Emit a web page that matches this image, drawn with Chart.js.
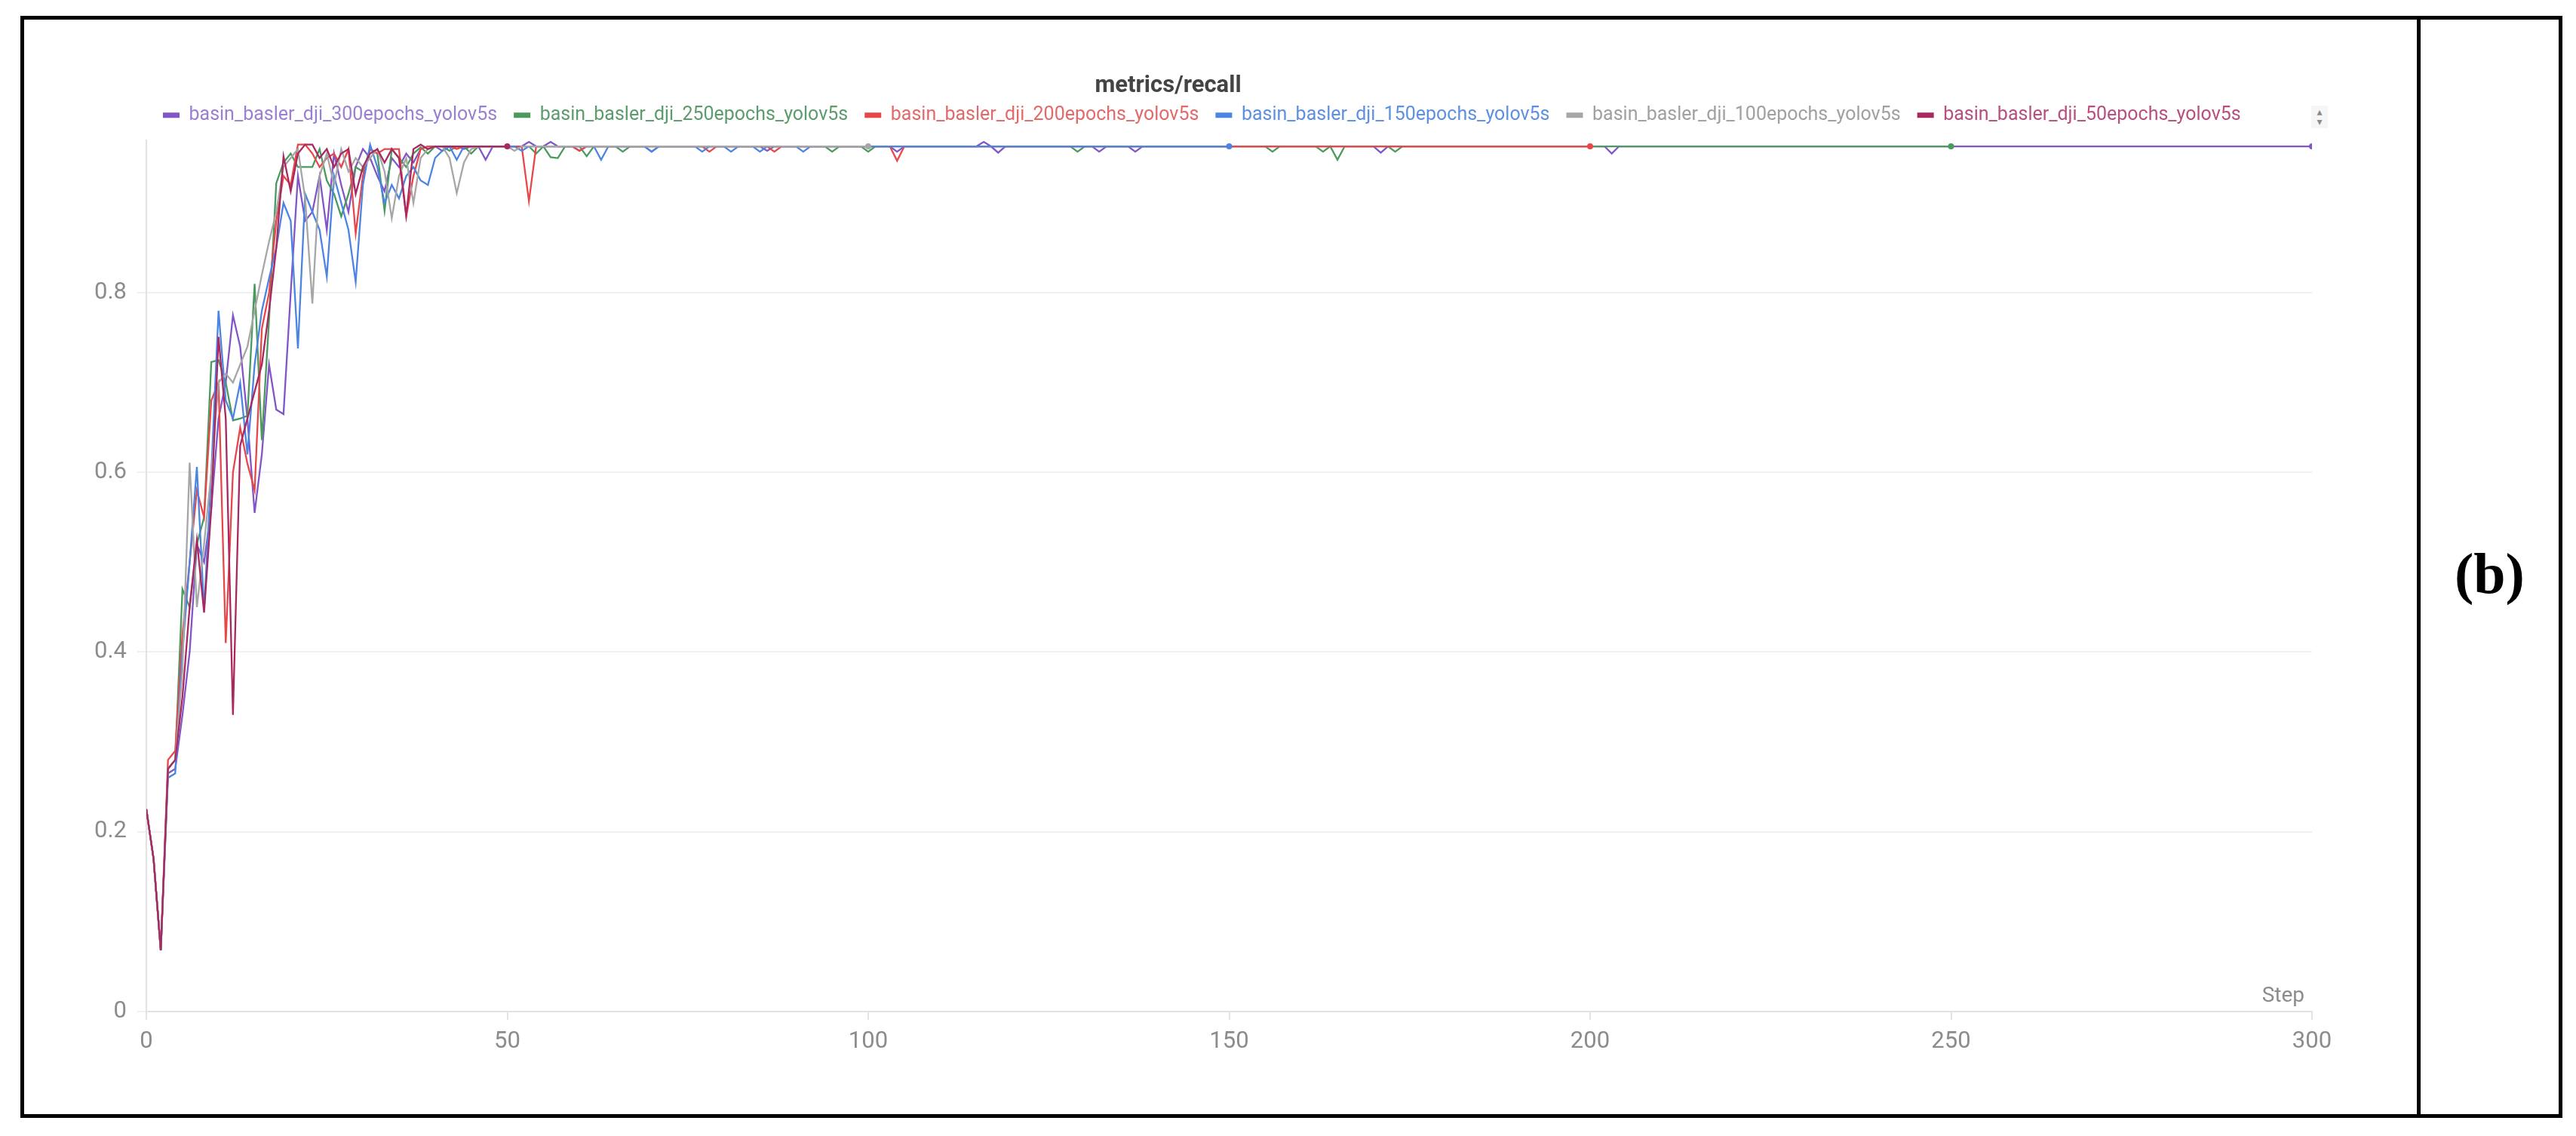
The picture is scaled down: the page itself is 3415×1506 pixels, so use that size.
<!DOCTYPE html>
<html>
<head>
<meta charset="utf-8">
<script src="https://cdn.jsdelivr.net/npm/chart.js@4.4.1/dist/chart.umd.min.js"></script>
<style>
  html, body { margin: 0; padding: 0; background: #fff; }
  body { width: 3415px; height: 1506px; position: relative; overflow: hidden; }
  #frame { position: absolute; left: 27px; top: 21px; width: 3370px; height: 1461px; border: 5px solid #000; box-sizing: border-box; }
  #divider { position: absolute; left: 3204px; top: 21px; width: 5px; height: 1461px; background: #000; }
  #wrap { position: absolute; left: 32px; top: 26px; width: 3172px; height: 1450px; }
  #label { position: absolute; left: 3209px; top: 44px; width: 183px; height: 1432px; display: flex; align-items: center; justify-content: center; font: bold 76px "Liberation Serif", "Times New Roman", serif; color: #000; }
  #scroll { position: absolute; left: 3064px; top: 140px; width: 22px; padding: 2px 0; background: #f6f6f6; font: 14px "DejaVu Sans", sans-serif; line-height: 13px; color: #8a8a8a; text-align: center; }
</style>
</head>
<body>
<div id="frame"></div>
<div id="divider"></div>
<div id="wrap"><canvas id="recallChart" width="3172" height="1450"></canvas></div>
<div id="scroll">▴<br>▾</div>
<div id="label">(b)</div>
<script>
// ---------------- DATA ----------------
const chartTitle = "metrics/recall";
const xTitle = "Step";
const xTickValues = [0, 50, 100, 150, 200, 250, 300];
const yTickValues = [0, 0.2, 0.4, 0.6, 0.8];

const runNames = [
    "basin_basler_dji_300epochs_yolov5s",
    "basin_basler_dji_250epochs_yolov5s",
    "basin_basler_dji_200epochs_yolov5s",
    "basin_basler_dji_150epochs_yolov5s",
    "basin_basler_dji_100epochs_yolov5s",
    "basin_basler_dji_50epochs_yolov5s"
];

// recall per step (step 0 .. N)
const recall300 = [
    .225,.17,.068,.265,.27,.33,.40,.52,.50,.56,
    .66,.70,.775,.74,.66,.555,.62,.72,.67,.665,
    .80,.93,.88,.89,.93,.87,.955,.92,.89,.94,
    .96,.95,.93,.913,.95,.94,.955,.945,.96,.963,
    .963,.958,.963,.963,.96,.963,.963,.948,.963,.963,
    .963,.963,.963,.968,.963,.963,.968,.963,.963,.963,
    .958,.963,.963,.963,.963,.963,.963,.963,.963,.963,
    .957,.963,.963,.963,.963,.963,.963,.963,.963,.963,
    .963,.963,.963,.963,.963,.963,.958,.963,.963,.963,
    .963,.963,.963,.963,.963,.963,.963,.963,.963,.963,
    .963,.963,.963,.963,.957,.963,.963,.963,.963,.963,
    .963,.963,.963,.963,.963,.963,.968,.963,.956,.963,
    .963,.963,.963,.963,.963,.963,.963,.963,.963,.963,
    .963,.963,.957,.963,.963,.963,.963,.957,.963,.963,
    .963,.963,.963,.963,.963,.963,.963,.963,.963,.963,
    .963,.963,.963,.963,.963,.963,.963,.963,.963,.963,
    .963,.963,.963,.963,.963,.963,.963,.963,.963,.963,
    .963,.956,.963,.963,.963,.963,.963,.963,.963,.963,
    .963,.963,.963,.963,.963,.963,.963,.963,.963,.963,
    .963,.963,.963,.963,.963,.963,.963,.963,.963,.963,
    .963,.963,.963,.955,.963,.963,.963,.963,.963,.963,
    .963,.963,.963,.963,.963,.963,.963,.963,.963,.963,
    .963,.963,.963,.963,.963,.963,.963,.963,.963,.963,
    .963,.963,.963,.963,.963,.963,.963,.963,.963,.963,
    .963,.963,.963,.963,.963,.963,.963,.963,.963,.963,
    .963,.963,.963,.963,.963,.963,.963,.963,.963,.963,
    .963,.963,.963,.963,.963,.963,.963,.963,.963,.963,
    .963,.963,.963,.963,.963,.963,.963,.963,.963,.963,
    .963,.963,.963,.963,.963,.963,.963,.963,.963,.963,
    .963,.963,.963,.963,.963,.963,.963,.963,.963,.963,
    .963
];

const recall250 = [
    .225,.17,.068,.27,.28,.47,.45,.52,.55,.723,
    .725,.70,.658,.66,.663,.81,.636,.77,.922,.945,
    .955,.94,.94,.94,.96,.925,.91,.885,.91,.94,
    .935,.96,.955,.891,.96,.95,.94,.955,.962,.955,
    .963,.963,.958,.963,.963,.955,.963,.963,.963,.963,
    .963,.963,.963,.963,.955,.963,.951,.95,.963,.963,
    .963,.952,.963,.963,.963,.963,.957,.963,.963,.963,
    .963,.963,.963,.963,.963,.963,.963,.963,.963,.963,
    .963,.963,.963,.963,.963,.963,.963,.963,.963,.963,
    .963,.963,.963,.963,.963,.957,.963,.963,.963,.963,
    .957,.963,.963,.963,.963,.963,.963,.963,.963,.963,
    .963,.963,.963,.963,.963,.963,.963,.963,.963,.963,
    .963,.963,.963,.963,.963,.963,.963,.963,.963,.957,
    .963,.963,.963,.963,.963,.963,.963,.963,.963,.963,
    .963,.963,.963,.963,.963,.963,.963,.963,.963,.963,
    .963,.963,.963,.963,.963,.963,.957,.963,.963,.963,
    .963,.963,.963,.957,.963,.948,.963,.963,.963,.963,
    .963,.963,.963,.957,.963,.963,.963,.963,.963,.963,
    .963,.963,.963,.963,.963,.963,.963,.963,.963,.963,
    .963,.963,.963,.963,.963,.963,.963,.963,.963,.963,
    .963,.963,.963,.963,.963,.963,.963,.963,.963,.963,
    .963,.963,.963,.963,.963,.963,.963,.963,.963,.963,
    .963,.963,.963,.963,.963,.963,.963,.963,.963,.963,
    .963,.963,.963,.963,.963,.963,.963,.963,.963,.963,
    .963,.963,.963,.963,.963,.963,.963,.963,.963,.963,
    .963
];

const recall200 = [
    .225,.17,.068,.28,.29,.42,.50,.58,.55,.68,
    .70,.41,.60,.65,.61,.58,.76,.80,.88,.93,
    .92,.965,.965,.955,.94,.95,.955,.94,.96,.866,
    .93,.96,.955,.96,.96,.96,.885,.93,.96,.963,
    .963,.963,.963,.96,.963,.963,.963,.963,.963,.963,
    .963,.963,.963,.902,.963,.963,.963,.963,.963,.963,
    .958,.963,.963,.963,.963,.963,.963,.963,.963,.963,
    .963,.963,.963,.963,.963,.963,.963,.963,.957,.963,
    .963,.963,.963,.963,.963,.963,.963,.957,.963,.963,
    .963,.963,.963,.963,.963,.963,.963,.963,.963,.963,
    .963,.963,.963,.963,.947,.963,.963,.963,.963,.963,
    .963,.963,.963,.963,.963,.963,.963,.963,.963,.963,
    .963,.963,.963,.963,.963,.963,.963,.963,.963,.963,
    .963,.963,.963,.963,.963,.963,.963,.963,.963,.963,
    .963,.963,.963,.963,.963,.963,.963,.963,.963,.963,
    .963,.963,.963,.963,.963,.963,.963,.963,.963,.963,
    .963,.963,.963,.963,.963,.963,.963,.963,.963,.963,
    .963,.963,.963,.963,.963,.963,.963,.963,.963,.963,
    .963,.963,.963,.963,.963,.963,.963,.963,.963,.963,
    .963,.963,.963,.963,.963,.963,.963,.963,.963,.963,
    .963
];

const recall150 = [
    .225,.17,.068,.26,.265,.40,.50,.606,.447,.60,
    .78,.68,.66,.70,.62,.72,.78,.816,.85,.90,
    .88,.738,.91,.89,.87,.818,.93,.90,.87,.812,
    .92,.965,.94,.90,.92,.905,.93,.94,.925,.92,
    .95,.958,.963,.948,.963,.963,.963,.963,.963,.963,
    .963,.963,.958,.963,.963,.963,.963,.963,.963,.963,
    .963,.963,.963,.948,.963,.963,.963,.963,.963,.963,
    .957,.963,.963,.963,.963,.963,.963,.957,.963,.963,
    .963,.957,.963,.963,.963,.957,.963,.963,.963,.963,
    .963,.957,.963,.963,.963,.963,.963,.963,.963,.963,
    .963,.963,.963,.963,.963,.963,.963,.963,.963,.963,
    .963,.963,.963,.963,.963,.963,.963,.963,.963,.963,
    .963,.963,.963,.963,.963,.963,.963,.963,.963,.963,
    .963,.963,.963,.963,.963,.963,.963,.963,.963,.963,
    .963,.963,.963,.963,.963,.963,.963,.963,.963,.963,
    .963
];

const recall100 = [
    .225,.17,.068,.27,.28,.38,.611,.45,.52,.60,
    .70,.71,.70,.72,.74,.78,.82,.857,.89,.94,
    .95,.96,.905,.788,.93,.955,.92,.96,.935,.95,
    .94,.95,.96,.935,.883,.93,.95,.90,.95,.96,
    .963,.963,.95,.911,.945,.96,.963,.963,.963,.963,
    .963,.958,.963,.963,.963,.963,.963,.963,.963,.963,
    .963,.963,.963,.963,.963,.963,.963,.963,.963,.963,
    .963,.963,.963,.963,.963,.963,.963,.963,.963,.963,
    .963,.963,.963,.963,.963,.963,.963,.963,.963,.963,
    .963,.963,.963,.963,.963,.963,.963,.963,.963,.963,
    .963
];

const recall50 = [
    .225,.17,.068,.27,.28,.35,.45,.525,.444,.56,
    .751,.66,.33,.63,.66,.69,.72,.78,.85,.952,
    .913,.955,.965,.965,.95,.96,.94,.955,.96,.91,
    .94,.955,.96,.945,.96,.95,.886,.96,.965,.96,
    .963,.963,.963,.963,.963,.963,.963,.963,.963,.963,
    .963
];

// ---------------- STYLE ----------------
const lineColors = ["#8056c8", "#4a9a5e", "#e8474a", "#4c84e3", "#a6a6a6", "#a82860"];
const textColors = ["#9a80d2", "#5c9c6c", "#e26a6a", "#5e90e2", "#a0a0a0", "#b8507f"];
const runData = [recall300, recall250, recall200, recall150, recall100, recall50];

const tickColor = "#8c8c8c";
const gridColor = "#f0f0f0";
const axisColor = "#e2e2e2";

// ---------------- CHART ----------------
const stepLabel = {
    id: "stepLabel",
    afterDraw(chart) {
        const { ctx, chartArea } = chart;
        ctx.save();
        ctx.font = "28px Roboto";
        ctx.fillStyle = tickColor;
        ctx.textAlign = "right";
        ctx.textBaseline = "middle";
        ctx.fillText(xTitle, chartArea.right - 10, chartArea.bottom - 20);
        ctx.restore();
    }
};

new Chart(document.getElementById("recallChart"), {
    type: "line",
    data: {
        datasets: runData.map((values, i) => ({
            label: runNames[i],
            data: values.map((v, step) => ({ x: step, y: v })),
            borderColor: lineColors[i],
            backgroundColor: lineColors[i],
            borderWidth: 2.3,
            tension: 0,
            fill: false,
            order: 5 - i,
            pointRadius: ctx => ctx.dataIndex === values.length - 1 ? 4 : 0,
            pointBorderWidth: 0,
            pointBackgroundColor: lineColors[i]
        }))
    },
    options: {
        responsive: false,
        animation: false,
        devicePixelRatio: 1,
        layout: { padding: { left: 0, right: 139, top: 0, bottom: 65 } },
        plugins: {
            title: {
                display: true,
                text: chartTitle,
                color: "#444444",
                font: { family: "Roboto", size: 31, weight: "bold" },
                padding: { top: 70, bottom: -15 }
            },
            subtitle: {
                display: true,
                text: "",
                weight: 500,
                font: { size: 1, lineHeight: 1 },
                padding: { top: 9.5, bottom: 0 }
            },
            legend: {
                display: true,
                position: "top",
                align: "start",
                fullSize: false,
                labels: {
                    boxWidth: 22,
                    boxHeight: 7,
                    padding: 22,
                    font: { family: "Roboto", size: 25 },
                    sort: (a, b) => a.datasetIndex - b.datasetIndex,
                    generateLabels(chart) {
                        const items = Chart.defaults.plugins.legend.labels.generateLabels(chart);
                        return items.map(item => Object.assign(item, {
                            fillStyle: lineColors[item.datasetIndex],
                            strokeStyle: lineColors[item.datasetIndex],
                            lineWidth: 0,
                            fontColor: textColors[item.datasetIndex]
                        }));
                    }
                }
            },
            tooltip: { enabled: false }
        },
        scales: {
            x: {
                type: "linear",
                min: 0,
                max: 300,
                afterBuildTicks: scale => { scale.ticks = xTickValues.map(v => ({ value: v })); },
                grid: { drawOnChartArea: false, color: axisColor, lineWidth: 2, tickLength: 11 },
                border: { color: axisColor, width: 2 },
                ticks: { color: tickColor, font: { family: "Roboto", size: 31 }, padding: 11, maxRotation: 0 }
            },
            y: {
                min: 0,
                max: 0.97,
                afterBuildTicks: scale => { scale.ticks = yTickValues.map(v => ({ value: v })); },
                afterFit: scale => { scale.width = 162; },
                grid: { color: gridColor, lineWidth: 2, tickLength: 12 },
                border: { color: axisColor, width: 2 },
                ticks: {
                    color: tickColor,
                    font: { family: "Roboto", size: 31 },
                    padding: 14,
                    callback: v => String(Math.round(v * 10) / 10)
                }
            }
        }
    },
    plugins: [stepLabel]
});
</script>
</body>
</html>
